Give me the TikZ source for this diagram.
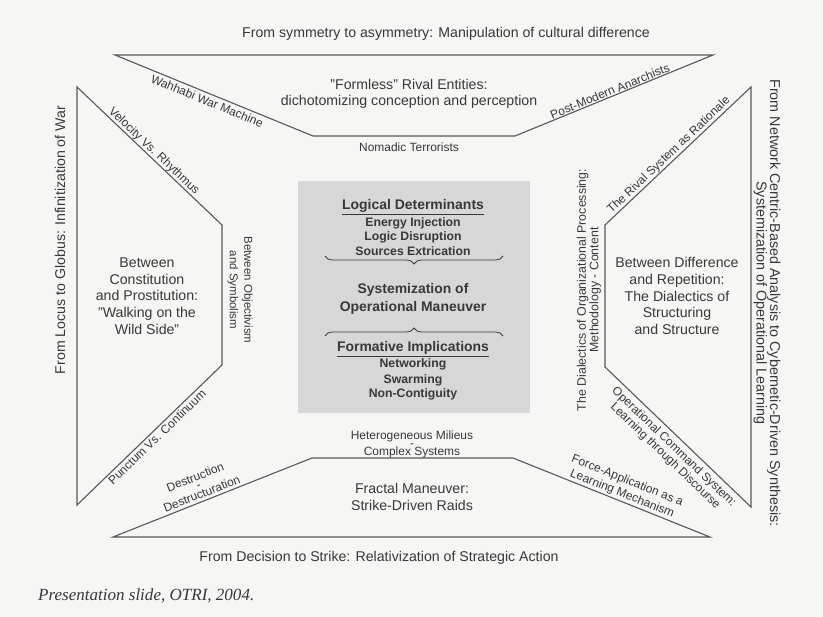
\documentclass[tikz,border=0pt]{standalone}
\usepackage{fontspec}
\setmainfont{Liberation Sans}
\newfontfamily\capfont{Liberation Serif}
\usetikzlibrary{decorations.pathreplacing}
\definecolor{paper}{HTML}{F6F6F4}
\definecolor{ink}{HTML}{383838}
\definecolor{rule}{HTML}{585858}
\definecolor{panel}{HTML}{D7D7D7}
\begin{document}
\begin{tikzpicture}[x=1bp,y=-1bp,
  edge/.style={draw=rule,line width=1.1bp,line join=miter},
  lbl/.style={text=ink,font=\fontsize{12}{14}\selectfont,inner sep=1.5bp},
  mid/.style={text=ink,font=\fontsize{14.2}{16.7}\selectfont,align=center,inner sep=0pt},
  ttl/.style={text=ink,font=\fontsize{14.2}{13.5}\selectfont,align=center,inner sep=0pt},
  boxhead/.style={text=ink,font=\bfseries\fontsize{14}{16}\selectfont,inner sep=0pt},
  boxitem/.style={text=ink,font=\bfseries\fontsize{12.3}{14}\selectfont,inner sep=0pt},
  brace/.style={draw=ink,line width=0.8bp,decorate,decoration={brace,amplitude=8bp}}]

% page
\fill[paper] (0,0) rectangle (823,617);
\useasboundingbox (0,0) rectangle (823,617);

% corner points of the four frames
\coordinate (T1) at (115,55);  \coordinate (T2) at (713,55);
\coordinate (T3) at (515,136); \coordinate (T4) at (313,136);
\coordinate (L1) at (77,87);   \coordinate (L2) at (222,225);
\coordinate (L3) at (222,365); \coordinate (L4) at (77,505);
\coordinate (R1) at (751,87);  \coordinate (R2) at (605,225);
\coordinate (R3) at (605,367); \coordinate (R4) at (751,507);
\coordinate (B1) at (113,537); \coordinate (B2) at (312,458);
\coordinate (B3) at (513,458); \coordinate (B4) at (710,537);

\draw[edge] (T1) -- (T2) -- (T3) -- (T4) -- cycle;
\draw[edge] (L1) -- (L2) -- (L3) -- (L4) -- cycle;
\draw[edge] (R1) -- (R2) -- (R3) -- (R4) -- cycle;
\draw[edge] (B1) -- (B2) -- (B3) -- (B4) -- cycle;

% central panel
\node[fill=panel,minimum width=232bp,minimum height=232bp,inner sep=0pt] (panel) at (414,297) {};
\node[boxhead] (logical) at (413,207) {\underline{Logical Determinants}};
\node[boxitem] (energy) at (413,223) {Energy Injection};
\node[boxitem] (disrupt) at (413,237) {Logic Disruption};
\node[boxitem] (sources) at (413,251) {Sources Extrication};
\coordinate (bra) at (503,256); \coordinate (brb) at (325,256);
\draw[brace] (bra) -- (brb);
\node[boxhead,align=center,font=\bfseries\fontsize{14}{17.7}\selectfont] (system) at (413,299) {Systemization of\\Operational Maneuver};
\coordinate (brc) at (325,336); \coordinate (brd) at (503,336);
\draw[brace] (brc) -- (brd);
\node[boxhead] (formative) at (413,349) {\underline{Formative Implications}};
\node[boxitem] (network) at (413,364) {Networking};
\node[boxitem] (swarm) at (413,380) {Swarming};
\node[boxitem] (contig) at (413,394) {Non-Contiguity};

% frame contents
\node[mid,font=\fontsize{14.2}{16}\selectfont] (formless) at (409,94) {"Formless" Rival Entities:\\dichotomizing conception and perception};
\node[mid] (constitution) at (147,296) {Between\\Constitution\\and Prostitution:\\"Walking on the\\Wild Side"};
\node[mid] (difference) at (677,296) {Between Difference\\and Repetition:\\The Dialectics of\\Structuring\\and Structure};
\node[mid,font=\fontsize{14.2}{17}\selectfont] (fractal) at (412,497) {Fractal Maneuver:\\Strike-Driven Raids};

% labels along the edges
\path (T1) -- (T4) node[lbl,sloped,pos=0.48,anchor=north,inner sep=3bp] (wahhabi) {Wahhabi War Machine};
\path (T3) -- (T2) node[lbl,sloped,pos=0.49,anchor=south,inner sep=1bp] (anarch) {Post-Modern Anarchists};
\node[lbl] (nomadic) at (409,147) {Nomadic Terrorists};
\path (L1) -- (L2) node[lbl,sloped,pos=0.5,anchor=south,inner sep=0.5bp] (velocity) {Velocity Vs. Rhythmus};
\path (L4) -- (L3) node[lbl,sloped,pos=0.52,anchor=north,inner sep=2bp] (punctum) {Punctum Vs. Continuum};
\path (R2) -- (R1) node[lbl,sloped,pos=0.47,anchor=south,inner sep=1bp] (rival) {The Rival System as Rationale};
\path (R3) -- (R4) node[lbl,sloped,pos=0.52,anchor=north,align=center,inner sep=4.5bp,font=\fontsize{12}{12.5}\selectfont] (command) {Operational Command System:\\Learning through Discourse};
\path (B1) -- (B2) node[lbl,sloped,pos=0.46,anchor=south,align=center,inner sep=3bp] (destr) {Destruction\\[-5pt]-\\[-5pt]Destructuration};
\path (B3) -- (B4) node[lbl,sloped,pos=0.54,anchor=south,align=center,inner sep=1.5bp] (force) {Force-Application as a\\Learning Mechanism};
\node[lbl,align=center,inner sep=0pt] (milieus) at (412,444) {Heterogeneous Milieus\\[-6pt]-\\[-6pt]Complex Systems};
\node[lbl,align=center,rotate=-90,inner sep=0pt,font=\fontsize{11.5}{14.5}\selectfont] (objectiv) at (240,290) {Between Objectivism\\and Symbolism};
\node[lbl,align=center,rotate=90,inner sep=0pt,font=\fontsize{12.4}{12.5}\selectfont] (dialect) at (589,290) {The Dialectics of Organizational Processing:\\Methodology - Content};

% outer titles
\node[ttl] (symmetry) at (446,34) {From symmetry to asymmetry: Manipulation of cultural difference};
\node[ttl] (decision) at (379,558) {From Decision to Strike: Relativization of Strategic Action};
\node[ttl,rotate=90] (locus) at (60,240) {From Locus to Globus: Infinitization of War};
\node[ttl,rotate=-90,font=\fontsize{14.4}{13.5}\selectfont] (netw) at (767,303) {From Network Centric-Based Analysis to Cybernetic-Driven Synthesis:\\Systemization of Operational Learning};

% caption
\node[text=ink,font=\capfont\itshape\fontsize{17.1}{18}\selectfont,anchor=west,inner sep=0pt] (caption) at (38,596) {Presentation slide, OTRI, 2004.};
\end{tikzpicture}
\end{document}
